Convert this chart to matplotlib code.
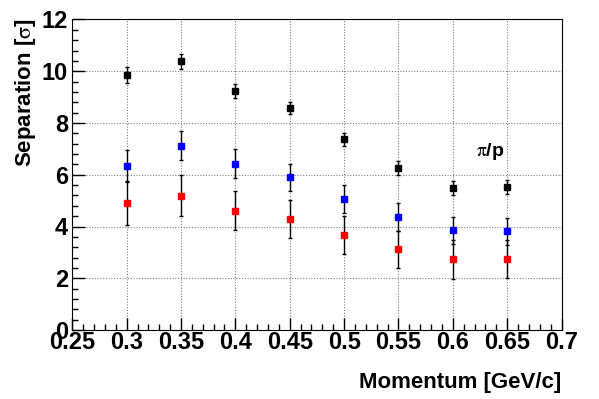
import matplotlib.pyplot as plt
from matplotlib.ticker import MultipleLocator

plt.rcParams['font.family'] = ['Liberation Sans', 'DejaVu Sans']
plt.rcParams['mathtext.fontset'] = 'stix'

# momentum points
p = [0.30, 0.35, 0.40, 0.45, 0.50, 0.55, 0.60, 0.65]

# separation values and errors
sep_black = [9.85, 10.38, 9.24, 8.58, 7.38, 6.26, 5.48, 5.52]
err_black = [0.30, 0.28, 0.28, 0.25, 0.25, 0.26, 0.28, 0.28]
sep_blue = [6.35, 7.13, 6.43, 5.90, 5.06, 4.36, 3.85, 3.82]
err_blue = [0.62, 0.56, 0.55, 0.53, 0.53, 0.53, 0.52, 0.52]
sep_red = [4.91, 5.19, 4.61, 4.28, 3.68, 3.12, 2.73, 2.74]
err_red = [0.86, 0.80, 0.76, 0.73, 0.73, 0.72, 0.75, 0.74]

xtick_labels = ['0.25', '0.3', '0.35', '0.4', '0.45', '0.5', '0.55', '0.6', '0.65', '0.7']

fig = plt.figure(figsize=(5.99, 3.99), dpi=100)
ax = fig.add_axes([72.3 / 599, 1 - 330 / 399, (561.5 - 72.3) / 599, (330 - 19.5) / 399])

for y, e, c in [(sep_black, err_black, 'black'), (sep_blue, err_blue, 'blue'), (sep_red, err_red, 'red')]:
    ax.errorbar(p, y, yerr=e, fmt='s', color=c, ms=5, mec=c, ecolor='black',
                elinewidth=1, capsize=1.5, capthick=1, zorder=3)

ax.text(0.634, 6.9, r'$\mathrm{\pi}$/p', fontsize=14, fontweight='bold', ha='center', va='center')

ax.set_xlim(0.25, 0.7)
ax.set_ylim(0, 12)
ax.xaxis.set_minor_locator(MultipleLocator(0.01))
ax.yaxis.set_major_locator(MultipleLocator(2))
ax.yaxis.set_minor_locator(MultipleLocator(0.4))
ax.set_xticks([0.25, 0.3, 0.35, 0.4, 0.45, 0.5, 0.55, 0.6, 0.65, 0.7])
ax.set_xticklabels(xtick_labels)
ax.tick_params(which='both', direction='in', top=False, right=False, labelsize=17)
ax.tick_params(which='major', length=9, width=1)
ax.tick_params(which='minor', length=4.5, width=1)
for lab in ax.get_xticklabels() + ax.get_yticklabels():
    lab.set_fontweight('bold')
ax.tick_params(axis='x', pad=1)
ax.tick_params(axis='y', pad=3)

ax.grid(True, which='major', color='gray', linestyle=(0, (1, 1.5)), linewidth=0.8)

ax.set_xlabel('Momentum [GeV/c]', fontsize=16, fontweight='bold', ha='right', va='center')
ax.xaxis.set_label_coords(1.0, -0.17)
ax.set_ylabel(r'Separation [$\mathrm{\sigma}$]', fontsize=16, fontweight='bold', ha='right', va='center')
ax.yaxis.set_label_coords(-0.095, 1.005)

plt.savefig('out.png', dpi=100)
